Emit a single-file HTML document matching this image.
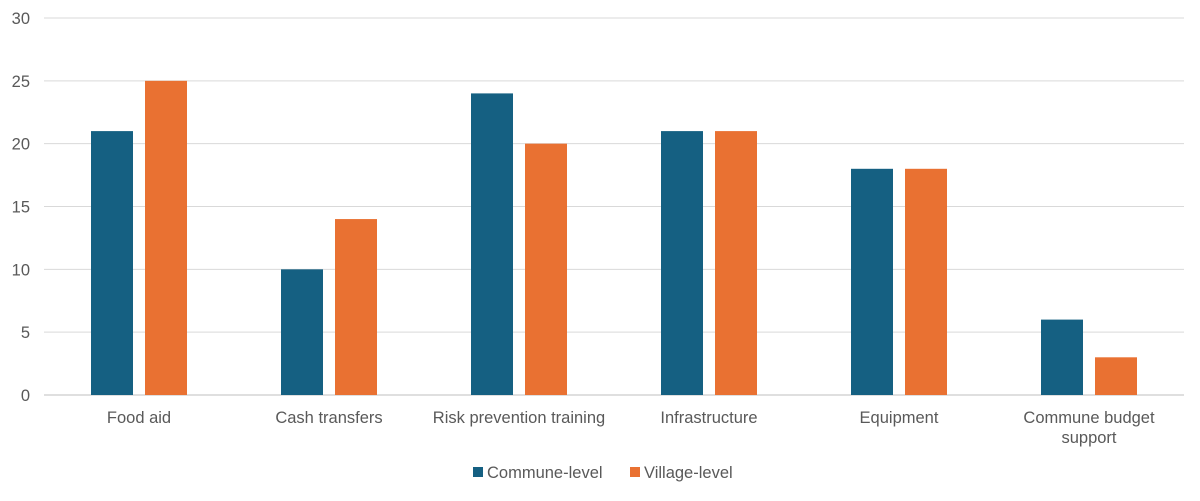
<!DOCTYPE html>
<html><head><meta charset="utf-8"><style>
body{margin:0;background:#fff;font-family:"Liberation Sans",Arial,sans-serif;}
svg text{font-family:"Liberation Sans",Arial,sans-serif;fill:#595959;font-size:16.5px;}
</style></head><body>
<svg id="chart" width="1200" height="496" xmlns="http://www.w3.org/2000/svg">
<g id="grid"></g>
<g id="ylabels"></g>
<g id="bars"></g>
<g id="xlabels"></g>
<g>
<rect x="473" y="467" width="10" height="10" fill="#156082"/>
<text x="487" y="478">Commune-level</text>
<rect x="630" y="467" width="10" height="10" fill="#E97132"/>
<text x="644" y="478">Village-level</text>
</g>
</svg>
<script>
const categories=[["Food aid"],["Cash transfers"],["Risk prevention training"],["Infrastructure"],["Equipment"],["Commune budget","support"]];
const communeValues=[21,10,24,21,18,6];
const villageValues=[25,14,20,21,18,3];
const yTicks=[0,5,10,15,20,25,30];
const NS="http://www.w3.org/2000/svg";
const x0=44,x1=1184,yBase=395,yTop=18,yMax=30;
const y=v=>yBase-(v/yMax)*(yBase-yTop);
const band=(x1-x0)/categories.length;
const cx=i=>x0+band*(i+0.5);
function mk(tag,attrs,parent){const e=document.createElementNS(NS,tag);for(const k in attrs)e.setAttribute(k,attrs[k]);parent.appendChild(e);return e;}
const grid=document.getElementById('grid'),yl=document.getElementById('ylabels'),bars=document.getElementById('bars'),xl=document.getElementById('xlabels');
yTicks.forEach(t=>{
 const l=mk('line',{x1:x0,x2:x1,y1:y(t),y2:y(t),stroke:t===0?'#bfbfbf':'#d9d9d9','stroke-width':1},grid);
 
 
 const tx=mk('text',{x:30,y:y(t)+6,'text-anchor':'end'},yl);
 tx.textContent=t;
 
 
});
categories.forEach((c,i)=>{
 const b1=mk('rect',{x:cx(i)-48,y:y(communeValues[i]),width:42,height:yBase-y(communeValues[i]),fill:'#156082'},bars);
 
 
 const b2=mk('rect',{x:cx(i)+6,y:y(villageValues[i]),width:42,height:yBase-y(villageValues[i]),fill:'#E97132'},bars);
 
 
 c.forEach((line,j)=>{
  const t=mk('text',{x:cx(i),y:423+j*20,'text-anchor':'middle'},xl);
  t.textContent=line;
  
  
 });
});
</script>
</body></html>
